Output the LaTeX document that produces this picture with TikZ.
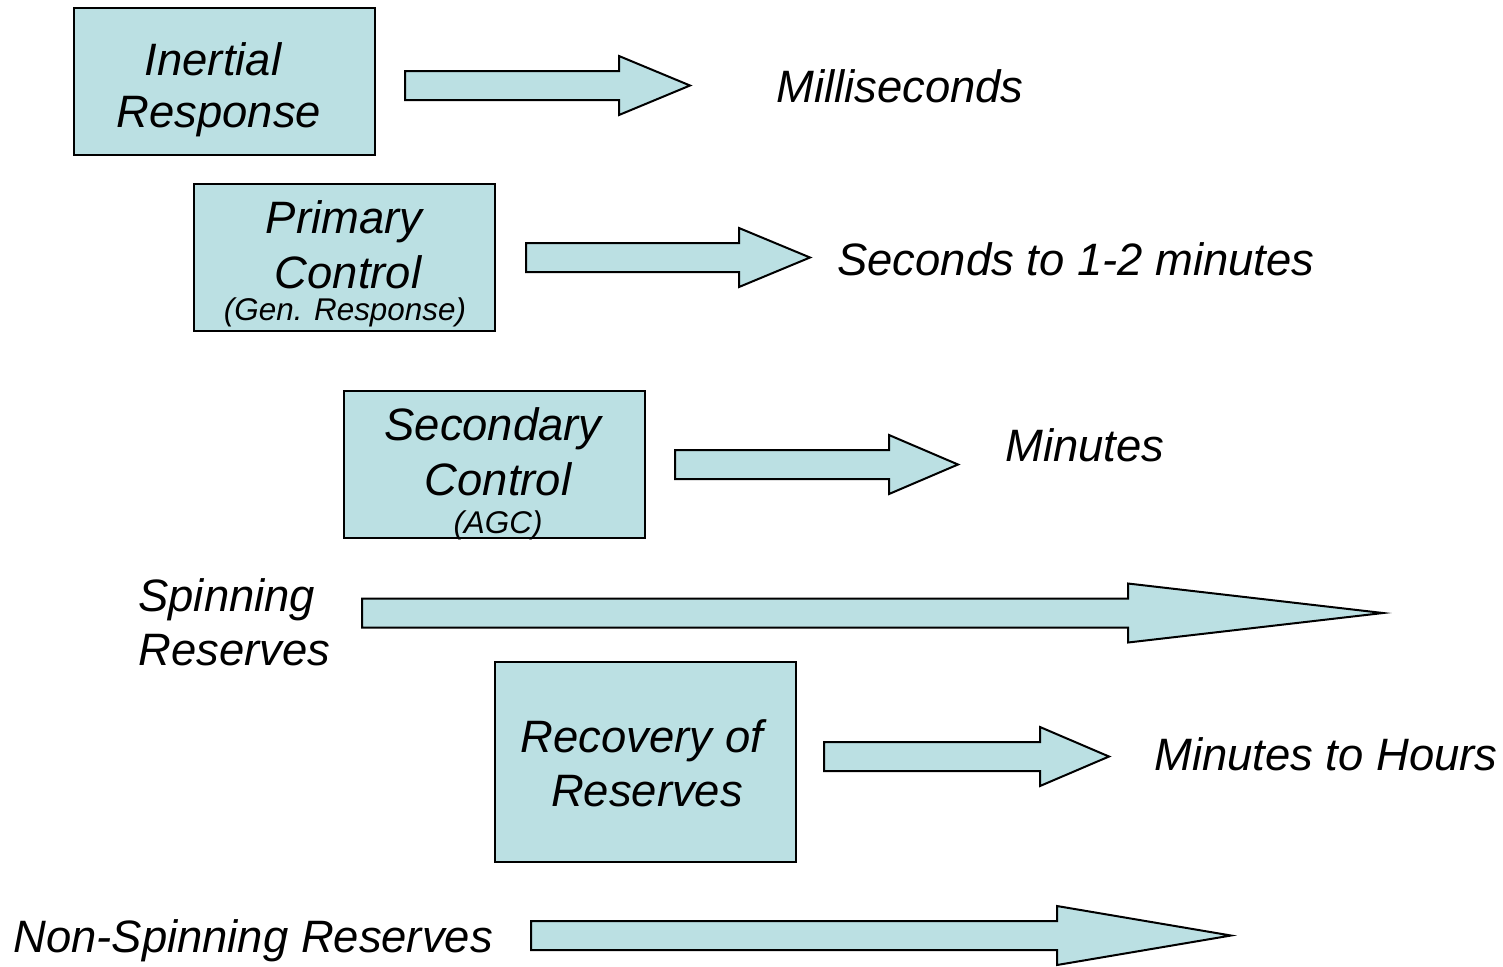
\documentclass[tikz,border=0pt]{standalone}
\usepackage{fontspec}
\setmainfont{Liberation Sans}
\usepackage{tikz}
\usetikzlibrary{positioning}

\definecolor{boxteal}{RGB}{187,224,227}

% block arrow: start x, head x, tip x, middle y
\newcommand{\BlockArrow}[4]{%
  \draw[ArrowStyle] (#1,{#4-14.5}) -- (#2,{#4-14.5}) -- (#2,{#4-29.5}) -- (#3,#4)
    -- (#2,{#4+29.5}) -- (#2,{#4+14.5}) -- (#1,{#4+14.5}) -- cycle;}

\begin{document}
\begin{tikzpicture}[x=0.5pt,y=-0.5pt]
	\tikzset{BoxStyle/.style = {draw, fill=boxteal, line width=1pt, inner sep=0pt,
	                            minimum width=150.5pt, minimum height=73.5pt}}
	\tikzset{ArrowStyle/.style = {draw, fill=boxteal, line width=1pt, line join=miter}}
	\tikzset{BigText/.style = {inner sep=0pt, anchor=base, font=\fontsize{22.7}{27}\selectfont\itshape}}
	\tikzset{SmallText/.style = {inner sep=0pt, anchor=base, font=\fontsize{15.7}{18}\selectfont\itshape}}
	\tikzset{SideText/.style = {BigText, anchor=base west}}
	\useasboundingbox (0,0) rectangle (1503,966);
	%\draw[help lines,step=50] (0,0) grid (1503,966);

	% boxes
	\node[BoxStyle] (inertial)  at (224.5,81.5)  {};
	\node[BoxStyle] (primary)   at (344.5,257.5) {};
	\node[BoxStyle] (secondary) at (494.5,464.5) {};
	\node[BoxStyle, minimum height=100pt] (recovery) at (645,762) {};

	% box texts
	\node[BigText] (t1a) at (213,75)  {Inertial};
	\node[BigText] (t1b) at (219,127) {Response};
	\node[BigText] (t2a) at (344,233) {Primary};
	\node[BigText] (t2b) at (348,288) {Control};
	\node[SmallText] (t2c) at (345,320) {(Gen. Response)};
	\node[BigText] (t3a) at (493,440) {Secondary};
	\node[BigText] (t3b) at (498,495) {Control};
	\node[SmallText] (t3c) at (498,533) {(AGC)};
	\node[BigText] (t4a) at (642,752) {Recovery of};
	\node[BigText] (t4b) at (647,806) {Reserves};

	% side texts
	\node[SideText] (ms)    at (776,102)  {Milliseconds};
	\node[SideText] (secs)  at (837,275)  {Seconds to 1-2 minutes};
	\node[SideText] (mins)  at (1005,461) {Minutes};
	\node[SideText] (spin)  at (138,611)  {Spinning};
	\node[SideText] (spinb) at (138,665)  {Reserves};
	\node[SideText] (hours) at (1154,770) {Minutes to Hours};
	\node[SideText] (nonsp) at (13,952)   {Non-Spinning Reserves};

	% arrows
	\BlockArrow{405}{619}{690}{85.5}
	\BlockArrow{526}{739}{810}{257.5}
	\BlockArrow{675}{889}{958}{464.5}
	\BlockArrow{362}{1128}{1383}{613}
	\BlockArrow{824}{1040}{1109}{756.5}
	\BlockArrow{531}{1057}{1231}{935.5}
\end{tikzpicture}
\end{document}
